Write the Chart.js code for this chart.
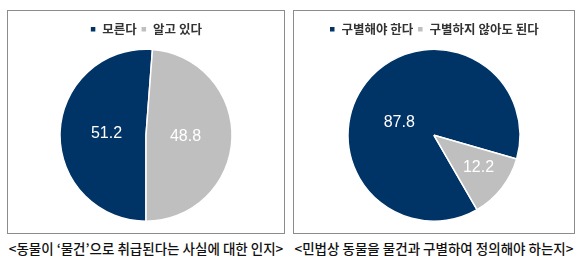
<!DOCTYPE html>
<html>
<head>
<meta charset="utf-8">
<script src="https://cdn.jsdelivr.net/npm/chart.js"></script>
<style>
  body { margin: 0; width: 579px; height: 261px; background: #fff; position: relative; overflow: hidden; }
  .box { position: absolute; top: 10px; height: 222px; border: 1px solid #8c8c8c; }
  .box canvas { display: block; }
  .caption { position: absolute; top: 238px; font: 500 13.5px "Noto Sans CJK KR", sans-serif; color: #111; text-align: center; white-space: nowrap; }
</style>
</head>
<body>
<div class="box" style="left:7px; width:276px;"><canvas id="leftChart" width="276" height="222"></canvas></div>
<div class="box" style="left:293px; width:280px;"><canvas id="rightChart" width="280" height="222"></canvas></div>
<div class="caption" style="left:7px; width:278px;">&lt;동물이 ‘물건’으로 취급된다는 사실에 대한 인지&gt;</div>
<div class="caption" style="left:293px; width:282px;">&lt;민법상 동물을 물건과 구별하여 정의해야 하는지&gt;</div>
<script>
//Data
const leftLabels = ["모른다", "알고 있다"];
const leftValues = [51.2, 48.8];
const rightLabels = ["구별해야 한다", "구별하지 않아도 된다"];
const rightValues = [87.8, 12.2];

const sliceColors = ["#003366", "#bfbfbf"];

// draws the value inside each slice (no datalabels plugin available)
// radius: fraction of the outer radius, shift: degrees off the slice middle
const sliceLabels = {
  id: "sliceLabels",
  afterDatasetsDraw(chart, args, opts) {
    const ctx = chart.ctx;
    const meta = chart.getDatasetMeta(0);
    const values = chart.data.datasets[0].data;
    ctx.save();
    ctx.font = "16px 'Liberation Sans', Arial, sans-serif";
    ctx.fillStyle = "#fff";
    ctx.textAlign = "center";
    ctx.textBaseline = "middle";
    meta.data.forEach((arc, i) => {
      const mid = (arc.startAngle + arc.endAngle) / 2 + (opts.shift[i] || 0) * Math.PI / 180;
      const r = arc.outerRadius * opts.radius[i];
      ctx.fillText(values[i].toFixed(1), arc.x + Math.cos(mid) * r, arc.y + Math.sin(mid) * r);
    });
    ctx.restore();
  }
};

// extra room between the legend and the pie
const legendGap = {
  id: "legendGap",
  beforeInit(chart) {
    const origFit = chart.legend.fit;
    chart.legend.fit = function() {
      origFit.bind(chart.legend)();
      this.height += 3;
    };
  }
};

function makePie(canvasId, labels, values, rotation, labelRadius, labelShift) {
  return new Chart(document.getElementById(canvasId), {
    type: "pie",
    data: {
      labels: labels,
      datasets: [{
        data: values,
        backgroundColor: sliceColors,
        borderColor: "#fff",
        borderWidth: 1.5
      }]
    },
    options: {
      responsive: false,
      animation: false,
      rotation: rotation,
      layout: { padding: { top: 8, bottom: 11 } },
      plugins: {
        legend: {
          position: "top",
          labels: {
            boxWidth: 6,
            boxHeight: 6,
            padding: 4,
            color: "#333",
            font: { family: "'Noto Sans CJK KR', sans-serif", size: 12.5, weight: "bold" }
          }
        },
        tooltip: { enabled: false },
        sliceLabels: { radius: labelRadius, shift: labelShift }
      }
    },
    plugins: [legendGap, sliceLabels]
  });
}

makePie("leftChart", leftLabels, leftValues, 180, [0.46, 0.46], [0, 0]);
makePie("rightChart", rightLabels, rightValues, 150, [0.43, 0.64], [-18, -2]);
</script>
</body>
</html>
